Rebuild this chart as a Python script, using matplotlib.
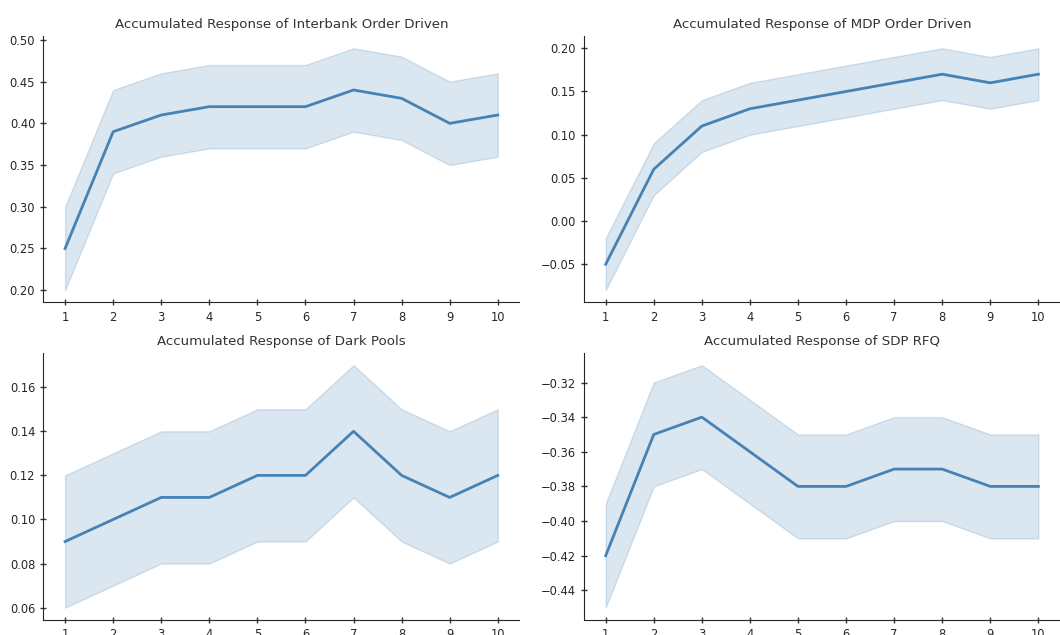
import matplotlib
matplotlib.use("Agg")
import matplotlib.pyplot as plt

periods = [1, 2, 3, 4, 5, 6, 7, 8, 9, 10]

interbank_mean = [0.25, 0.39, 0.41, 0.42, 0.42, 0.42, 0.44, 0.43, 0.40, 0.41]
interbank_lower = [0.20, 0.34, 0.36, 0.37, 0.37, 0.37, 0.39, 0.38, 0.35, 0.36]
interbank_upper = [0.30, 0.44, 0.46, 0.47, 0.47, 0.47, 0.49, 0.48, 0.45, 0.46]

mdp_mean = [-0.05, 0.06, 0.11, 0.13, 0.14, 0.15, 0.16, 0.17, 0.16, 0.17]
mdp_lower = [-0.08, 0.03, 0.08, 0.10, 0.11, 0.12, 0.13, 0.14, 0.13, 0.14]
mdp_upper = [-0.02, 0.09, 0.14, 0.16, 0.17, 0.18, 0.19, 0.20, 0.19, 0.20]

dark_mean = [0.09, 0.10, 0.11, 0.11, 0.12, 0.12, 0.14, 0.12, 0.11, 0.12]
dark_lower = [0.06, 0.07, 0.08, 0.08, 0.09, 0.09, 0.11, 0.09, 0.08, 0.09]
dark_upper = [0.12, 0.13, 0.14, 0.14, 0.15, 0.15, 0.17, 0.15, 0.14, 0.15]

rfq_mean = [-0.42, -0.35, -0.34, -0.36, -0.38, -0.38, -0.37, -0.37, -0.38, -0.38]
rfq_lower = [-0.45, -0.38, -0.37, -0.39, -0.41, -0.41, -0.40, -0.40, -0.41, -0.41]
rfq_upper = [-0.39, -0.32, -0.31, -0.33, -0.35, -0.35, -0.34, -0.34, -0.35, -0.35]

titles = [
    "Accumulated Response of Interbank Order Driven",
    "Accumulated Response of MDP Order Driven",
    "Accumulated Response of Dark Pools",
    "Accumulated Response of SDP RFQ",
]

panels = [
    (interbank_mean, interbank_lower, interbank_upper),
    (mdp_mean, mdp_lower, mdp_upper),
    (dark_mean, dark_lower, dark_upper),
    (rfq_mean, rfq_lower, rfq_upper),
]

line_color = "#4682b4"

fig = plt.figure(figsize=(10.6, 6.35), dpi=100)
positions = [
    [0.041, 0.524, 0.449, 0.419],
    [0.551, 0.524, 0.449, 0.419],
    [0.041, 0.024, 0.449, 0.420],
    [0.551, 0.024, 0.449, 0.420],
]

for pos, title, (mean, lower, upper) in zip(positions, titles, panels):
    ax = fig.add_axes(pos)
    ax.fill_between(periods, lower, upper, facecolor=line_color, alpha=0.2,
                    edgecolor=line_color, linewidth=1)
    ax.plot(periods, mean, color=line_color, linewidth=2)
    ax.set_title(title, fontsize=9.6, color="#333333")
    ax.set_xticks(periods)
    ax.tick_params(direction="inout", length=5, width=1, labelsize=8.3,
                   colors="#333333", labelcolor="#262626")
    for side in ("top", "right"):
        ax.spines[side].set_visible(False)
    for side in ("left", "bottom"):
        ax.spines[side].set_color("#262626")

fig.savefig("out.png", dpi=100)
